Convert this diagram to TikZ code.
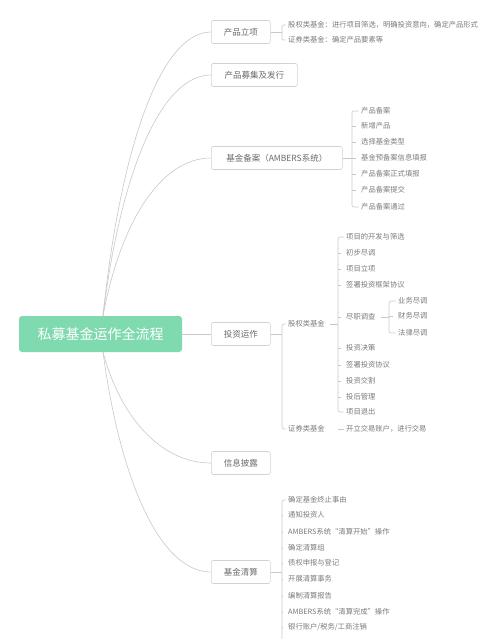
\documentclass[tikz,border=0pt]{standalone}
\usepackage{fontspec}
\setmainfont{Noto Sans CJK SC}
\definecolor{lc}{HTML}{C8C8C8}
\definecolor{bd}{HTML}{D2D2D2}
\definecolor{tc}{HTML}{6A6A6A}
\definecolor{lt}{HTML}{7A7A7A}
\definecolor{rootc}{HTML}{80DAAF}
\tikzset{
 conn/.style={draw=lc, line width=0.6pt},
 lone/.style={draw=bd, fill=white, rounded corners=2pt, line width=0.6pt, minimum height=23pt, inner xsep=12.5pt, anchor=west, font=\fontsize{8.5}{10}\selectfont, text=tc},
 leaf/.style={anchor=west, inner sep=1pt, font=\fontsize{7.3}{8}\selectfont, text=lt},
 rootbox/.style={fill=rootc, rounded corners=3pt, minimum width=163pt, minimum height=36pt, text=white, font=\fontsize{14}{16}\selectfont}
}
\begin{document}
\begin{tikzpicture}[x=1pt,y=-1pt]
\useasboundingbox (0,0) rectangle (500,639);
% root
\node[rootbox] (root) at (100.5,334) {私募基金运作全流程};
\coordinate (rt) at (103,316);
\coordinate (rb) at (103,352);
% level 1
\node[lone, minimum width=59pt] (b1) at (211,32) {产品立项};
\node[lone, minimum width=86pt] (b2) at (211,75) {产品募集及发行};
\node[lone, minimum width=131pt] (b3) at (211,158) {基金备案（AMBERS系统）};
\node[lone, minimum width=59pt] (b4) at (211,334) {投资运作};
\node[lone, minimum width=59pt] (b5) at (211,463) {信息披露};
\node[lone, minimum width=59pt] (b6) at (211,572) {基金清算};
% root connectors
\draw[conn] (rt) .. controls (120,151) and (160,32) .. (b1.west);
\draw[conn] (rt) .. controls (120,176) and (160,75) .. (b2.west);
\draw[conn] (rt) .. controls (120,224) and (160,158) .. (b3.west);
\draw[conn] (root.east) -- (b4.west);
\draw[conn] (rb) .. controls (120,416) and (160,463) .. (b5.west);
\draw[conn] (rb) .. controls (120,480) and (160,572) .. (b6.west);
% bracket columns
\coordinate (bx1) at (282,0);
\coordinate (bx2) at (352,0);
\coordinate (bx3) at (282,0);
\coordinate (bx4) at (338,0);
\coordinate (bx5) at (389,0);
\coordinate (bx6) at (282,0);
\coordinate (hend) at (282,639);
% group a
\node[leaf] (a1) at (287,25) {股权类基金：进行项目筛选，明确投资意向，确定产品形式};
\node[leaf] (a2) at (287,40) {证券类基金：确定产品要素等};
\draw[conn] (b1.east) -- (b1.east -| bx1);
\draw[conn, rounded corners=2pt] ([xshift=-1.5pt]a1.west) -- (a1.west -| bx1) -- (a2.west -| bx1) -- ([xshift=-1.5pt]a2.west);
% group c
\node[leaf] (c1) at (360,111) {产品备案};
\node[leaf] (c2) at (360,126) {新增产品};
\node[leaf] (c3) at (360,142) {选择基金类型};
\node[leaf] (c4) at (360,158) {基金预备案信息填报};
\node[leaf] (c5) at (360,174) {产品备案正式填报};
\node[leaf] (c6) at (360,190) {产品备案提交};
\node[leaf] (c7) at (360,207) {产品备案通过};
\draw[conn] (b3.east) -- (b3.east -| bx2);
\draw[conn, rounded corners=2pt] ([xshift=-1.5pt]c1.west) -- (c1.west -| bx2) -- (c7.west -| bx2) -- ([xshift=-1.5pt]c7.west);
\foreach \n in {c2,c3,c4,c5,c6} \draw[conn] (\n.west -| bx2) -- ([xshift=-4pt]\n.west);
% group g / s
\node[leaf] (g) at (287,324) {股权类基金};
\node[leaf] (s) at (287,429) {证券类基金};
\draw[conn] (b4.east) -- (b4.east -| bx3);
\draw[conn, rounded corners=2pt] ([xshift=-1.5pt]g.west) -- (g.west -| bx3) -- (s.west -| bx3) -- ([xshift=-1.5pt]s.west);
% group d
\node[leaf] (d1) at (345,237) {项目的开发与筛选};
\node[leaf] (d2) at (345,253) {初步尽调};
\node[leaf] (d3) at (345,269) {项目立项};
\node[leaf] (d4) at (345,285) {签署投资框架协议};
\node[leaf] (d5) at (345,317) {尽职调查};
\node[leaf] (d6) at (345,348) {投资决策};
\node[leaf] (d7) at (345,365) {签署投资协议};
\node[leaf] (d8) at (345,381) {投资交割};
\node[leaf] (d9) at (345,397) {投后管理};
\node[leaf] (d10) at (345,412) {项目退出};
\draw[conn] ([xshift=4pt]g.east) -- (g.east -| bx4);
\draw[conn, rounded corners=2pt] ([xshift=-1.5pt]d1.west) -- (d1.west -| bx4) -- (d10.west -| bx4) -- ([xshift=-1.5pt]d10.west);
\foreach \n in {d2,d3,d4,d5,d6,d7,d8,d9} \draw[conn] (\n.west -| bx4) -- ([xshift=-4pt]\n.west);
% group e
\node[leaf] (e1) at (397,301) {业务尽调};
\node[leaf] (e2) at (397,316) {财务尽调};
\node[leaf] (e3) at (397,333) {法律尽调};
\draw[conn] ([xshift=4pt]d5.east) -- (d5.east -| bx5);
\draw[conn, rounded corners=2pt] ([xshift=-1.5pt]e1.west) -- (e1.west -| bx5) -- (e3.west -| bx5) -- ([xshift=-1.5pt]e3.west);
\draw[conn] (e2.west -| bx5) -- ([xshift=-4pt]e2.west);
% securities
\node[leaf] (f) at (345,429) {开立交易账户，进行交易};
\draw[conn] ([xshift=12pt]s.east) -- ([xshift=-1.5pt]f.west);
% group h
\node[leaf] (h1) at (287,500) {确定基金终止事由};
\node[leaf] (h2) at (287,515) {通知投资人};
\node[leaf] (h3) at (287,532) {AMBERS系统“清算开始”操作};
\node[leaf] (h4) at (287,548) {确定清算组};
\node[leaf] (h5) at (287,563) {债权申报与登记};
\node[leaf] (h6) at (287,579) {开展清算事务};
\node[leaf] (h7) at (287,596) {编制清算报告};
\node[leaf] (h8) at (287,612) {AMBERS系统“清算完成”操作};
\node[leaf] (h9) at (287,627) {银行账户/税务/工商注销};
\draw[conn] (b6.east) -- (b6.east -| bx6);
\draw[conn, rounded corners=2pt] ([xshift=-1.5pt]h1.west) -- (h1.west -| bx6) -- (hend);
\foreach \n in {h2,h3,h4,h5,h6,h7,h8,h9} \draw[conn] (\n.west -| bx6) -- ([xshift=-4pt]\n.west);
\end{tikzpicture}
\end{document}
